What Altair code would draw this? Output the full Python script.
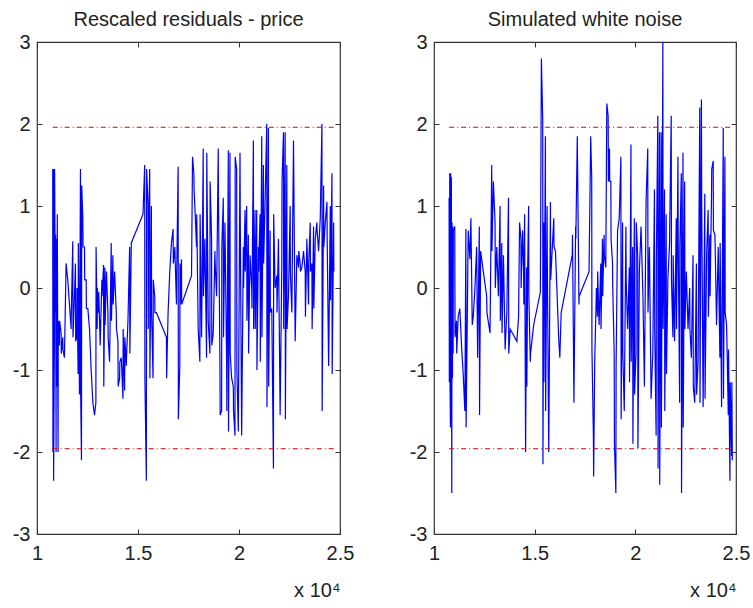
import altair as alt
import pandas as pd

# ---- data (x in raw units, shown as x 10^4) ----
LEFT_X = [
    10778, 10790, 10811, 10822, 10861, 10872, 10911, 10922, 10944, 10955,
    10993, 11004, 11043, 11054, 11109, 11120, 11192, 11203, 11275, 11286,
    11358, 11440, 11523, 11606, 11689, 11700, 11771, 11782, 11854, 11904,
    11915, 11970, 11981, 12036, 12047, 12103, 12114, 12152, 12163, 12202,
    12213, 12268, 12279, 12351, 12362, 12434, 12445, 12517, 12599, 12682,
    12765, 12848, 12914, 12925, 12980, 12991, 13046, 13057, 13129, 13212,
    13223, 13295, 13306, 13361, 13372, 13427, 13438, 13510, 13521, 13593,
    13675, 13686, 13758, 13769, 13841, 13924, 13935, 14007, 14018, 14089,
    14100, 14172, 14255, 14266, 14338, 14349, 14420, 14431, 14503, 14586,
    14597, 14669, 15248, 15331, 15342, 15414, 15425, 15497, 15508, 15519,
    15579, 15590, 15662, 15673, 15745, 15756, 15828, 15839, 15911, 16407,
    16418, 16429, 16490, 16573, 16656, 16738, 16749, 16821, 16904, 16915,
    16987, 16998, 17069, 17080, 17091, 17152, 17163, 17649, 17699, 17765,
    17776, 17814, 17897, 17908, 17980, 18063, 18074, 18146, 18157, 18228,
    18239, 18311, 18394, 18405, 18477, 18559, 18570, 18642, 18653, 18725,
    18808, 18819, 18891, 18973, 18984, 19056, 19067, 19139, 19150, 19222,
    19233, 19304, 19387, 19398, 19470, 19481, 19553, 19564, 19636, 19718,
    19729, 19801, 19812, 19884, 19895, 19967, 20050, 20061, 20132, 20215,
    20226, 20298, 20309, 20381, 20392, 20463, 20474, 20546, 20629, 20640,
    20712, 20723, 20794, 20805, 20877, 20888, 20960, 20971, 21043, 21054,
    21126, 21137, 21208, 21219, 21291, 21374, 21385, 21457, 21468, 21540,
    21551, 21622, 21705, 21716, 21788, 21871, 21882, 21953, 22036, 22119,
    22130, 22202, 22213, 22285, 22296, 22367, 22378, 22450, 22533, 22544,
    22616, 22698, 22781, 22864, 22947, 22958, 23030, 23041, 23112, 23195,
    23278, 23289, 23361, 23443, 23454, 23526, 23537, 23609, 23620, 23692,
    23703, 23775, 23857, 23868, 23940, 24023, 24106, 24117, 24188, 24199,
    24271, 24354, 24365, 24437, 24520, 24531, 24602, 24613, 24685, 24696,
]
LEFT_Y = [
    1.45, -2.0, 1.45, -2.35, -0.7, 1.45, -0.3, 0.65, -2.0, 0.6,
    -1.2, 0.9, -2.0, -0.4, -0.7, -0.4, -0.55, -0.8, -0.6, -0.75,
    -0.85, 0.3, 0.1, -0.2, -0.5, -0.3, 0.57, -0.6, -0.1, 0.3,
    -0.65, -0.6, 0.0, -1.05, 0.55, -1.3, -0.5, 1.45, -1.3, -2.1,
    1.25, 0.85, 0.5, 0.5, 0.1, 0.1, -0.25, -0.25, -0.5, -1.0,
    -1.4, -1.55, -1.4, 0.5, -0.5, 0.0, -0.3, -0.05, -0.7, 0.1,
    -0.1, 0.28, -1.2, 0.25, -0.45, 0.1, 0.2, -0.3, -0.6, -0.9,
    0.55, -0.4, 0.4, -0.2, 0.2, -0.3, -0.5, -0.65, -1.2, -1.1,
    -0.9, -0.85, -1.35, -0.5, -1.25, -0.6, -0.95, -0.85, -0.4, 0.5,
    -0.8, 0.55, 0.9, 1.5, -1.1, -2.35, 1.45, 1.0, -0.5, 0.5,
    1.45, -1.1, 1.0, -0.3, -1.1, 0.1, -0.1, -0.3, -0.3, -0.6,
    -1.1, -0.95, -0.3, 0.2, 0.55, 0.72, 0.3, 0.5, -0.2, 0.15,
    1.48, -1.6, -0.95, 0.3, -0.2, 0.35, -0.2, 0.15, 1.6, 1.4,
    1.2, 1.0, 0.5, 0.9, -0.5, -0.9, 0.9, -0.6, -0.35, 1.7,
    -0.1, 0.6, -0.85, 1.65, -0.4, -0.8, 1.3, 0.6, -0.7, -0.55,
    0.45, 0.3, -0.1, 1.7, 1.1, -0.9, -1.55, -1.5, 0.5, 1.1,
    -0.6, 0.8, -0.9, -1.5, 1.68, -1.75, 1.65, -0.8, -1.1, -1.2,
    -1.5, -1.8, 1.6, 1.45, -1.0, -1.75, 1.65, 0.9, -1.8, 0.5,
    0.0, 0.95, 0.2, 1.0, -0.4, 0.65, -0.8, 0.4, 0.0, -0.25,
    1.8, -0.5, 0.95, -0.5, 0.95, -1.0, 0.5, 0.2, 0.9, -0.9,
    1.85, -0.6, 1.5, 0.3, 1.05, 2.0, -1.45, 1.95, -1.2, 0.7,
    -0.3, -0.25, -2.2, 0.9, 0.0, 0.15, -0.3, 0.6, -1.55, 0.3,
    1.3, 1.9, -0.5, 1.9, -1.6, 1.5, -0.5, -0.1, 1.0, 0.2,
    -0.3, 1.8, -0.65, 0.4, 0.25, 0.45, 0.3, 0.2, 0.25, 0.45,
    0.2, -0.35, 0.6, -0.2, 0.3, 0.8, 0.2, 0.3, -0.5, 0.75,
    -0.25, 0.6, 0.8, 0.7, 0.45, 0.85, 2.0, -1.5, 1.25, 0.5,
    0.8, 1.05, 0.6, -0.95, 1.0, -0.15, 1.4, -1.05, 0.8, 0.2,
]

RIGHT_X = [
    10750, 10762, 10783, 10795, 10817, 10829, 10850, 10862, 10883, 10895,
    10917, 10929, 10950, 10962, 11033, 11045, 11117, 11129, 11200, 11283,
    11367, 11450, 11533, 11545, 11583, 11595, 11700, 11783, 11833, 11900,
    11950, 12033, 12117, 12167, 12250, 12262, 12317, 12450, 12617, 12629,
    12783, 12867, 12879, 12950, 13033, 13045, 13117, 13200, 13283, 13295,
    13367, 13379, 13450, 13533, 13617, 13700, 13712, 13783, 14117, 14200,
    14250, 14317, 14329, 14400, 14450, 14462, 14500, 14550, 14600, 14612,
    14650, 14700, 14712, 14783, 14795, 14950, 15117, 15283, 15333, 15400,
    15412, 15450, 15462, 15533, 15545, 15617, 15629, 15700, 15783, 15795,
    15867, 15950, 15962, 16033, 16117, 16200, 16250, 16317, 16867, 16879,
    16950, 17033, 17045, 17117, 17200, 17212, 17700, 17783, 17833, 17845,
    17917, 17929, 17983, 18067, 18079, 18117, 18129, 18200, 18283, 18295,
    18367, 18379, 18450, 18462, 18533, 18583, 18650, 18662, 18717, 18729,
    18783, 18795, 18867, 18879, 18950, 18962, 19033, 19045, 19117, 19200,
    19283, 19295, 19367, 19379, 19450, 19533, 19545, 19617, 19700, 19712,
    19783, 19795, 19867, 19879, 19950, 19962, 20033, 20045, 20117, 20129,
    20200, 20283, 20367, 20379, 20450, 20533, 20617, 20629, 20700, 20783,
    20867, 20950, 20962, 21033, 21045, 21117, 21129, 21200, 21212, 21283,
    21295, 21367, 21379, 21450, 21462, 21533, 21545, 21617, 21700, 21712,
    21783, 21795, 21867, 21879, 21950, 22033, 22045, 22117, 22129, 22200,
    22212, 22283, 22295, 22367, 22379, 22450, 22462, 22533, 22617, 22700,
    22712, 22783, 22867, 22879, 22950, 23033, 23045, 23117, 23200, 23212,
    23283, 23295, 23367, 23450, 23462, 23533, 23545, 23617, 23629, 23700,
    23712, 23783, 23795, 23867, 23879, 23950, 23962, 24033, 24117, 24200,
    24212, 24283, 24295, 24367, 24379, 24450, 24462, 24533, 24617, 24629,
    24700, 24712, 24783, 24795, 24817,
]
RIGHT_Y = [
    1.1, -1.15, 1.4, -1.1, -1.7, 1.4, -0.9, 1.35, -2.5, 0.8,
    -1.1, 0.75, -0.8, 0.7, 0.75, -0.6, -0.4, -0.8, -0.35, -0.25,
    -0.7, -1.05, -1.5, -1.0, 0.72, -1.7, 0.7, 0.35, 0.85, -0.45,
    -0.35, 0.0, 0.5, -0.85, 0.75, -1.55, 0.45, 0.2, -0.1, -0.3,
    -0.55, 1.5, 0.45, 1.3, 0.8, 0.0, 0.5, -0.1, 1.0, -0.4,
    0.55, -0.55, 0.4, -0.75, -0.3, 1.1, -0.8, -0.5, -0.65, -0.35,
    0.8, 0.6, 0.0, 0.7, 0.2, -0.2, 0.9, -2.0, 0.25, -1.2,
    0.2, 1.0, -0.1, -0.9, -0.8, -0.45, -0.25, -0.05, 2.8, 2.05,
    -2.15, 0.8, -1.15, 1.85, -1.5, 1.0, 0.3, -2.0, 1.05, 0.1,
    0.45, 0.85, 0.5, 0.45, -0.1, -0.65, -0.85, -0.3, 0.4, 0.65,
    -1.4, 0.75, 0.6, 1.85, -0.2, -0.1, 0.2, 1.85, 1.35, -0.75,
    -1.8, -2.3, -0.9, 0.0, -0.1, -0.35, 0.2, -0.45, 0.3, -0.5,
    0.6, -0.1, 0.65, 0.4, 0.25, 2.25, 2.1, 1.3, 1.7, 1.3,
    1.3, 0.6, 0.3, 0.0, -0.8, -1.9, -2.5, -0.95, 0.7, 0.85,
    1.6, -1.6, 0.8, -0.8, -1.5, 0.75, 0.1, -0.5, 0.25, -1.15,
    1.75, -0.9, 0.5, -1.9, 0.85, -1.3, -0.8, 0.8, 0.4, -1.95,
    0.2, 0.75, 0.0, -0.1, -1.2, 1.05, 1.7, -0.3, 0.5, -1.35,
    -0.8, 1.2, -0.5, -1.8, 0.35, 2.1, -2.2, 1.9, -2.4, 1.9,
    -1.7, 3.0, -0.5, 1.2, -1.5, 0.9, -1.05, 0.1, 0.55, 0.8,
    2.1, 0.1, -0.6, 0.4, -0.65, 0.85, -0.5, 1.6, 0.6, -1.4,
    0.5, 1.4, -2.5, 1.65, -1.7, 1.3, -0.5, 0.2, -0.5, 0.0,
    -0.5, -0.85, 0.4, -1.2, -1.4, 0.3, -1.3, -0.9, 2.2, -1.4,
    2.3, 1.1, -1.45, 1.15, -1.35, 0.2, 0.45, 0.95, -0.35, 0.65,
    -0.1, 1.1, 1.45, 1.55, 0.7, 0.65, 0.55, -0.45, 0.5, -0.85,
    0.55, -1.45, -0.85, 1.95, -1.35, 1.6, -0.3, -0.45, -1.55, -0.75,
    -2.35, -1.15, -2.05, -1.15, -2.1,
]

BAND = [-1.96, 1.96]
X_TICKS = [10000, 15000, 20000, 25000]
Y_TICKS = [-3, -2, -1, 0, 1, 2, 3]
TITLES = ["Rescaled residuals - price", "Simulated white noise"]
X_NOTE = "x 10\u2074"

FONT = "Liberation Sans"
TEXT = "#222222"
FRAME = "#333333"


def panel(xs, ys, title, w):
    df = pd.DataFrame({"x": xs, "y": ys})
    band = pd.DataFrame({"lo": [min(xs)] * len(BAND), "hi": [max(xs)] * len(BAND), "y": BAND})
    xscale = alt.Scale(domain=[10000, 25000], nice=False, zero=False)
    yscale = alt.Scale(domain=[-3, 3], nice=False, zero=False)

    line = alt.Chart(df).mark_line(color="#0000ff", strokeWidth=1.2, clip=True).encode(
        x=alt.X("x:Q", scale=xscale,
                axis=alt.Axis(orient="bottom", values=X_TICKS,
                              labelExpr="toString(datum.value / 10000)",
                              title=X_NOTE, titleAnchor="end", titlePadding=17,
                              labelPadding=9, minExtent=0)),
        y=alt.Y("y:Q", scale=yscale,
                axis=alt.Axis(orient="left", values=Y_TICKS,
                              labelExpr="toString(datum.value)", title=None,
                              labelPadding=7, minExtent=0)),
    )
    rules = alt.Chart(band).mark_rule(color="#e00000", strokeWidth=1,
                                      strokeDash=[5, 3, 1, 3]).encode(
        x=alt.X("lo:Q", scale=xscale,
                axis=alt.Axis(orient="top", values=X_TICKS, labels=False, title=None,
                              minExtent=0, maxExtent=0)),
        x2="hi:Q",
        y=alt.Y("y:Q", scale=yscale,
                axis=alt.Axis(orient="right", values=Y_TICKS, labels=False, title=None,
                              minExtent=0, maxExtent=0)),
    )
    return (alt.layer(line, rules)
            .resolve_axis(x="independent", y="independent")
            .properties(width=w, height=492, title=alt.TitleParams(title)))


chart = (
    alt.hconcat(panel(LEFT_X, LEFT_Y, TITLES[0], 303),
                panel(RIGHT_X, RIGHT_Y, TITLES[1], 302), spacing=53)
    .properties(padding={"left": 11, "top": 9, "right": 0, "bottom": 2}, background="white")
    .configure_view(stroke=FRAME, strokeWidth=1.2)
    .configure_axis(grid=False, domain=False, tickSize=5, offset=-5, tickColor=FRAME,
                    tickWidth=1, labelFont=FONT, labelFontSize=20, labelColor=TEXT,
                    labelFlush=False, labelOverlap=False, titleFont=FONT, titleFontSize=20,
                    titleFontWeight="normal", titleColor=TEXT)
    .configure_title(font=FONT, fontSize=20, fontWeight="normal", color=TEXT,
                     anchor="middle", baseline="alphabetic", offset=2)
)

chart.save("out.html", embed_options={"renderer": "svg", "actions": False})
